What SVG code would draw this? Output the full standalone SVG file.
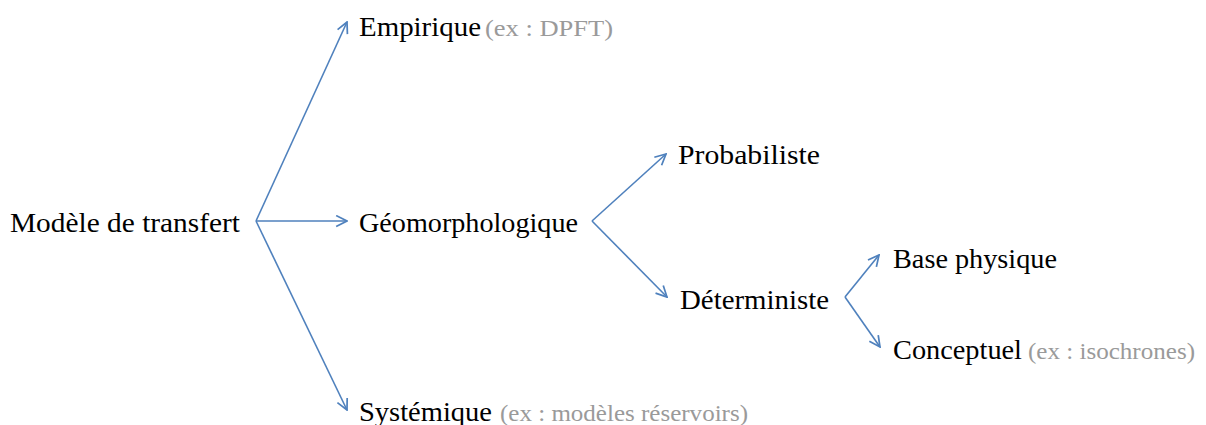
<svg xmlns="http://www.w3.org/2000/svg" width="1206" height="425" viewBox="0 0 1206 425">
<style>
.t{font-family:"Liberation Serif",serif;font-size:28px;fill:#000}
.g{font-family:"Liberation Serif",serif;font-size:23px;fill:#9a9a9a}
.c{fill:none;stroke:#4f81bd;stroke-width:1.6;marker-end:url(#ah)}
</style>
<defs>
<marker id="ah" viewBox="0 0 12 12" refX="11" refY="6" markerWidth="13" markerHeight="13" markerUnits="userSpaceOnUse" orient="auto">
<path d="M1,1 L11,6 L1,11" fill="none" stroke="#4f81bd" stroke-width="1.6"/>
</marker>
</defs>
<rect width="1206" height="425" fill="#fff"/>
<g id="connectors">
<line class="c" x1="256" y1="221" x2="347" y2="22"/>
<line class="c" x1="256" y1="221" x2="347" y2="221"/>
<line class="c" x1="256" y1="221" x2="347" y2="410"/>
<line class="c" x1="592" y1="221" x2="666" y2="154"/>
<line class="c" x1="592" y1="221" x2="667" y2="297"/>
<line class="c" x1="845" y1="297" x2="879" y2="255"/>
<line class="c" x1="845" y1="297" x2="880" y2="347"/>
</g>
<g id="n-modele"><text class="t" x="10" y="232" textLength="230" lengthAdjust="spacingAndGlyphs">Modèle de transfert</text></g>
<g id="n-empirique"><text class="t" x="359" y="36" textLength="122" lengthAdjust="spacingAndGlyphs">Empirique</text><text class="g" x="485" y="36" textLength="128" lengthAdjust="spacingAndGlyphs">(ex : DPFT)</text></g>
<g id="n-geomorpho"><text class="t" x="359" y="232" textLength="219" lengthAdjust="spacingAndGlyphs">Géomorphologique</text></g>
<g id="n-systemique"><text class="t" x="359" y="421" textLength="133" lengthAdjust="spacingAndGlyphs">Systémique</text><text class="g" x="500" y="421" textLength="248" lengthAdjust="spacingAndGlyphs">(ex : modèles réservoirs)</text></g>
<g id="n-proba"><text class="t" x="678" y="164" textLength="142" lengthAdjust="spacingAndGlyphs">Probabiliste</text></g>
<g id="n-determ"><text class="t" x="680" y="309" textLength="149" lengthAdjust="spacingAndGlyphs">Déterministe</text></g>
<g id="n-base"><text class="t" x="893" y="268" textLength="164" lengthAdjust="spacingAndGlyphs">Base physique</text></g>
<g id="n-concept"><text class="t" x="893" y="359" textLength="129" lengthAdjust="spacingAndGlyphs">Conceptuel</text><text class="g" x="1028" y="359" textLength="167" lengthAdjust="spacingAndGlyphs">(ex : isochrones)</text></g>
</svg>
